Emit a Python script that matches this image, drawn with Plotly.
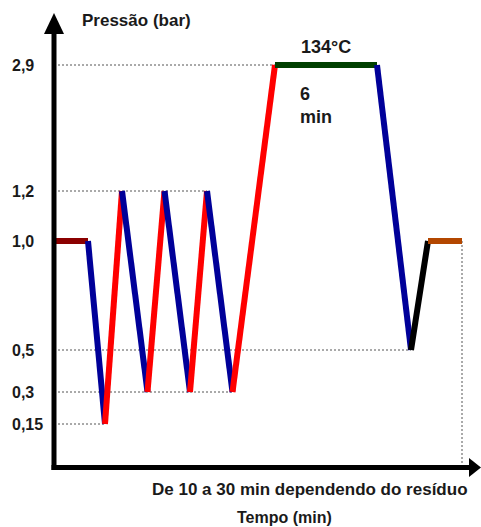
import numpy as np
import plotly.graph_objects as go

# Steam sterilisation cycle: schematic time (min) and chamber pressure (bar)
time_min = [0, 2, 3, 4, 5.5, 6.5, 8, 9, 10.5, 13, 19, 21, 22, 24]
pressure_bar = [1.0, 1.0, 0.15, 1.2, 0.3, 1.2, 0.3, 1.2, 0.3, 2.9, 2.9, 0.5, 1.0, 1.0]
segment_colors = ["#8B0000", "#000099", "#FF0000", "#000099", "#FF0000", "#000099",
                  "#FF0000", "#000099", "#FF0000", "#003F00", "#000099", "#000000", "#B34700"]

tick_values = [2.9, 1.2, 1.0, 0.5, 0.3, 0.15]
tick_labels = ["2,9", "1,2", "1,0", "0,5", "0,3", "0,15"]
guide_levels = [2.9, 1.2, 0.5, 0.3, 0.15]

sterilization_temp = "134°C"
plateau_start, plateau_end = 9, 10  # point indices bounding the 2.9 bar hold

# Pressure axis is drawn non-proportionally: each labelled level has its own height
AXIS_LEVELS = [0.0, 0.15, 0.3, 0.5, 1.0, 1.2, 2.9]
AXIS_HEIGHTS = [0, 43, 75, 117, 226, 276, 402]


def to_axis(p):
    return np.interp(p, AXIS_LEVELS, AXIS_HEIGHTS)


W, H = 481, 527
FONT = "Liberation Sans, Arial, sans-serif"
TXT = "#1a1a1a"


def px(x):
    return x / W


def py(y):
    return 1 - y / H


fig = go.Figure()

t = np.array(time_min, dtype=float)
y = to_axis(np.array(pressure_bar))

# dotted guides from the pressure axis to each labelled level
for lvl in guide_levels:
    reach = max(tt for tt, pp in zip(time_min, pressure_bar) if pp == lvl)
    fig.add_trace(go.Scatter(x=[0, reach], y=[to_axis(lvl)] * 2, mode="lines",
                             line=dict(color="#555555", width=1, dash="2px,2px"),
                             hoverinfo="skip", showlegend=False))
# dotted drop from the end of the cycle to the time axis
fig.add_trace(go.Scatter(x=[time_min[-1]] * 2, y=[y[-1], 0], mode="lines",
                         line=dict(color="#555555", width=1, dash="2px,2px"),
                         hoverinfo="skip", showlegend=False))

# coloured cycle phases
for i, col in enumerate(segment_colors):
    fig.add_trace(go.Scatter(x=t[i:i + 2], y=y[i:i + 2], mode="lines",
                             line=dict(color=col, width=6),
                             hoverinfo="skip", showlegend=False))

annotations = []
for v, lab in zip(tick_values, tick_labels):
    annotations.append(dict(x=px(10), xref="paper", y=to_axis(v), yref="y",
                            text=f"<b>{lab}</b>", showarrow=False,
                            xanchor="left", yanchor="middle",
                            font=dict(family=FONT, size=16, color=TXT)))

hold = time_min[plateau_end] - time_min[plateau_start]
mid = (time_min[plateau_start] + time_min[plateau_end]) / 2
annotations += [
    dict(x=px(136), xref="paper", y=py(21), yref="paper", text="<b>Pressão (bar)</b>",
         showarrow=False, xanchor="center", yanchor="middle",
         font=dict(family=FONT, size=17, color=TXT)),
    dict(x=mid, xref="x", y=py(47), yref="paper", text=f"<b>{sterilization_temp}</b>",
         showarrow=False, xanchor="center", yanchor="middle",
         font=dict(family=FONT, size=18, color=TXT)),
    dict(x=px(298), xref="paper", y=py(82), yref="paper",
         text=f"<b>{hold:g}<br>min</b>", showarrow=False, xanchor="left", yanchor="top",
         align="left", font=dict(family=FONT, size=18, color=TXT)),
    dict(x=px(310), xref="paper", y=py(489), yref="paper",
         text="<b>De 10 a 30 min dependendo do resíduo</b>",
         showarrow=False, xanchor="center", yanchor="middle",
         font=dict(family=FONT, size=17, color=TXT)),
    dict(x=px(284), xref="paper", y=py(517), yref="paper", text="<b>Tempo (min)</b>",
         showarrow=False, xanchor="center", yanchor="middle",
         font=dict(family=FONT, size=16, color=TXT)),
]

# axis lines with arrow heads
shapes = [
    dict(type="line", xref="paper", yref="paper", x0=px(54), x1=px(54), y0=py(470), y1=py(32),
         line=dict(color="black", width=5)),
    dict(type="path", xref="paper", yref="paper",
         path=f"M {px(54)} {py(13)} L {px(44)} {py(34)} L {px(64)} {py(34)} Z",
         fillcolor="black", line=dict(color="black", width=0)),
    dict(type="line", xref="paper", yref="paper", x0=px(51.5), x1=px(471), y0=py(467.5), y1=py(467.5),
         line=dict(color="black", width=5)),
    dict(type="path", xref="paper", yref="paper",
         path=f"M {px(481)} {py(467.5)} L {px(469)} {py(458)} L {px(469)} {py(477)} Z",
         fillcolor="black", line=dict(color="black", width=0)),
]

fig.update_layout(
    width=W, height=H, autosize=False,
    margin=dict(l=0, r=0, t=0, b=0, pad=0),
    paper_bgcolor="white", plot_bgcolor="white",
    xaxis=dict(range=[-54 / 17, 427 / 17], visible=False, fixedrange=True),
    yaxis=dict(range=[-60, 467], visible=False, fixedrange=True),
    annotations=annotations, shapes=shapes,
)

fig.write_html("out.html")
